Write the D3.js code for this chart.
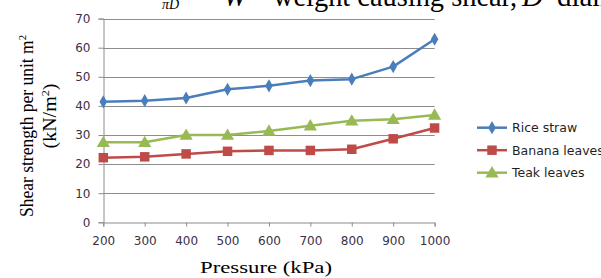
<!DOCTYPE html>
<html>
<head>
<meta charset="utf-8">
<script src="https://cdn.jsdelivr.net/npm/d3@7"></script>
<style>
  body { margin: 0; background: #fff; }
  svg { display: block; }
</style>
</head>
<body>
<div id="chart"></div>
<script>
// data
const pressures = [200, 300, 400, 500, 600, 700, 800, 900, 1000];
const riceStraw = [41.4, 41.8, 42.7, 45.7, 46.9, 48.7, 49.2, 53.5, 62.9];
const bananaLeaves = [22.2, 22.5, 23.5, 24.4, 24.7, 24.7, 25.1, 28.7, 32.4];
const teakLeaves = [27.5, 27.5, 30.0, 30.0, 31.4, 33.2, 34.9, 35.4, 36.9];
const yTicks = [0, 10, 20, 30, 40, 50, 60, 70];
const seriesNames = ['Rice straw', 'Banana leaves', 'Teak leaves'];

const width = 601;
const height = 278;

const series = [
  { name: seriesNames[0], values: riceStraw, color: '#4A7EBB', marker: 'diamond' },
  { name: seriesNames[1], values: bananaLeaves, color: '#BE4B48', marker: 'square' },
  { name: seriesNames[2], values: teakLeaves, color: '#98B954', marker: 'triangle' }
];

const xScale = d3.scaleLinear().domain([200, 1000]).range([103.3, 434.6]);
const yScale = d3.scaleLinear().domain([0, 70]).range([222.3, 18.6]);

const svg = d3.select('#chart')
  .append('svg')
  .attr('width', width)
  .attr('height', height);

/* stray text from the page above the figure (cut off at the top, as in the scan) */
const pageText = svg.append('g')
  .style('font-family', '"Liberation Serif", "Times New Roman", serif')
  .style('font-size', '29px')
  .attr('fill', '#000');
pageText.append('text').attr('x', 162).attr('y', 9).style('font-style', 'italic').style('font-size', '14px').text('πD');
pageText.append('text').attr('x', 223).attr('y', 6).style('font-style', 'italic').text('W');
pageText.append('text').attr('x', 273).attr('y', 6)
  .attr('textLength', 244).attr('lengthAdjust', 'spacingAndGlyphs')
  .text('weight causing shear,');
pageText.append('text').attr('x', 522).attr('y', 6).style('font-style', 'italic').text('D');
pageText.append('text').attr('x', 557).attr('y', 6).text('diam');

/* gridlines */
svg.append('g')
  .selectAll('line')
  .data(yTicks.filter((d) => d > 0))
  .enter()
  .append('line')
  .attr('x1', xScale(200))
  .attr('x2', xScale(1000))
  .attr('y1', (d) => Math.round(yScale(d)) + 0.5)
  .attr('y2', (d) => Math.round(yScale(d)) + 0.5)
  .attr('stroke', '#8c8c8c')
  .attr('stroke-width', 1);

/* axes */
const yAxis = d3.axisLeft(yScale).tickValues(yTicks).tickSize(5).tickPadding(8);
const xAxis = d3.axisBottom(xScale).tickValues(pressures).tickFormat(d3.format('d')).tickSize(4).tickPadding(10);

const gy = svg.append('g')
  .attr('transform', `translate(${Math.round(xScale(200)) + 0.5}, 0)`)
  .call(yAxis);
const gx = svg.append('g')
  .attr('transform', `translate(0, ${Math.round(yScale(0)) + 0.5})`)
  .call(xAxis);

[gx, gy].forEach((g) => {
  g.select('.domain').attr('stroke', '#8c8c8c');
  g.selectAll('.tick line').attr('stroke', '#8c8c8c');
  g.selectAll('.tick text')
    .attr('fill', '#3a3046')
    .style('font-family', '"DejaVu Sans", Verdana, sans-serif')
    .style('font-size', '12px');
});

/* lines */
const line = d3.line()
  .x((d, i) => xScale(pressures[i]))
  .y((d) => yScale(d));

const symbolFor = (m) => {
  if (m === 'diamond') return d3.symbol().type(d3.symbolDiamond).size(50)();
  if (m === 'square') return d3.symbol().type(d3.symbolSquare).size(90)();
  return d3.symbol().type(d3.symbolTriangle).size(75)();
};

const groups = svg.append('g')
  .selectAll('.series')
  .data(series)
  .enter()
  .append('g')
  .attr('class', 'series');

groups.append('path')
  .attr('d', (d) => line(d.values))
  .attr('fill', 'none')
  .attr('stroke', (d) => d.color)
  .attr('stroke-width', 2.5)
  .attr('stroke-linejoin', 'round');

groups.each(function (s) {
  d3.select(this)
    .selectAll('.pt')
    .data(s.values)
    .enter()
    .append('path')
    .attr('class', 'pt')
    .attr('d', symbolFor(s.marker))
    .attr('transform', (d, i) => `translate(${xScale(pressures[i])}, ${yScale(d) + (s.marker === 'triangle' ? 1 : 0)})`)
    .attr('fill', s.color);
});

/* legend */
const legend = svg.append('g')
  .selectAll('.legend')
  .data(series)
  .enter()
  .append('g')
  .attr('transform', (d, i) => `translate(477, ${127.7 + i * 22.5})`);

legend.append('line')
  .attr('x1', 0)
  .attr('x2', 30)
  .attr('stroke', (d) => d.color)
  .attr('stroke-width', 2.5);
legend.append('path')
  .attr('d', (d) => symbolFor(d.marker))
  .attr('transform', (d) => `translate(15, ${d.marker === 'triangle' ? 1 : 0})`)
  .attr('fill', (d) => d.color);
legend.append('text')
  .attr('x', 35)
  .attr('dy', '0.35em')
  .attr('fill', '#1f1f1f')
  .style('font-family', '"DejaVu Sans", Verdana, sans-serif')
  .style('font-size', '12.5px')
  .text((d) => d.name);

/* axis titles */
svg.append('text')
  .attr('x', 200)
  .attr('y', 273)
  .attr('textLength', 132)
  .attr('lengthAdjust', 'spacingAndGlyphs')
  .style('font-family', '"Liberation Serif", "Times New Roman", serif')
  .style('font-size', '17px')
  .text('Pressure (kPa)');

const yTitle = svg.append('g')
  .style('font-family', '"Liberation Serif", "Times New Roman", serif')
  .style('font-size', '18px')
  .attr('fill', '#000');

const t1 = yTitle.append('text')
  .attr('transform', 'translate(33, 126) rotate(-90)')
  .attr('text-anchor', 'middle')
  .attr('textLength', 182)
  .attr('lengthAdjust', 'spacingAndGlyphs');
t1.append('tspan').text('Shear strength per unit m');
t1.append('tspan').attr('dy', -7).style('font-size', '11px').text('2');

const t2 = yTitle.append('text')
  .attr('transform', 'translate(56, 116) rotate(-90)')
  .attr('text-anchor', 'middle')
  .attr('textLength', 65)
  .attr('lengthAdjust', 'spacingAndGlyphs');
t2.append('tspan').text('(kN/m');
t2.append('tspan').attr('dy', -7).style('font-size', '11px').text('2');
t2.append('tspan').attr('dy', 7).text(')');
</script>
</body>
</html>
